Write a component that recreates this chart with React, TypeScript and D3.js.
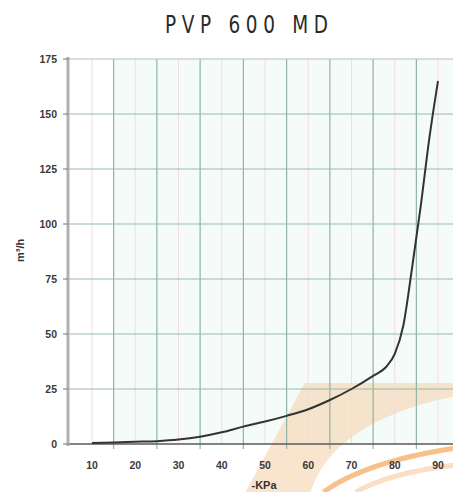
import React, { useEffect, useRef } from 'react';
import * as d3 from 'd3';

// curve: vacuum (-kPa) vs flow
const vacuum = [10, 15, 20, 25, 30, 35, 40, 45, 50, 55, 60, 65, 70, 75, 78, 80, 82, 84, 86, 88, 90];
const flow = [0.5, 0.7, 1.0, 1.3, 2.0, 3.3, 5.3, 7.9, 10.2, 12.8, 15.8, 20, 25, 31, 35, 41, 54, 80, 108, 139, 165];

const xTickLabels = [10, 20, 30, 40, 50, 60, 70, 80, 90];
const xGridValues = [15, 25, 35, 45, 55, 65, 75, 85];
const yTicks = [0, 25, 50, 75, 100, 125, 150, 175];

const W = 453;
const H = 492;
const margin = { top: 59, right: 0, bottom: 48, left: 68 };

const App: React.FC = () => {
  const svgRef = useRef<SVGSVGElement>(null);

  useEffect(() => {
    document.body.style.margin = '0';
    if (!svgRef.current) return;
    const svg = d3.select(svgRef.current);
    svg.selectAll('*').remove();

    const x = d3.scaleLinear().domain([10, 90]).range([92, 438]);
    const y = d3.scaleLinear().domain([0, 175]).range([H - margin.bottom, margin.top]);
    const x0 = margin.left;
    const x1 = W - margin.right;
    const yBase = y(0);

    svg.append('rect').attr('width', W).attr('height', H).attr('fill', '#ffffff');

    // faint mint paper tint
    svg.append('rect')
      .attr('x', x(15)).attr('y', y(175))
      .attr('width', x1 - x(15)).attr('height', yBase - y(175))
      .attr('fill', '#f4fbf8');

    // watermark (logo swoosh), given in data units
    const wm = (pts: [number, number][]) => pts.map(([a, b]) => [x(a), y(b)] as [number, number]);
    const [a1, a2, a3, a4, a5, a6] = wm([[59.2, 27.7], [97, 27.7], [97, 23], [66, 12], [60.5, -21.8], [45.5, -21.8]]);
    svg.append('path')
      .attr('d', `M${a1}L${a2}L${a3}Q${a4[0]},${a4[1]} ${a5[0]},${a5[1]}L${a6}Z`)
      .attr('fill', '#f7d8b8').attr('opacity', 0.7);
    const [b1, b2, b3] = wm([[63.5, -21.8], [74, -7], [97, -1]]);
    svg.append('path')
      .attr('d', `M${b1}Q${b2[0]},${b2[1]} ${b3[0]},${b3[1]}`)
      .attr('fill', 'none').attr('stroke', '#f6ac66').attr('stroke-width', 5).attr('opacity', 0.75);
    const [c1, c2, c3] = wm([[71, -21.8], [80, -12], [97, -9]]);
    svg.append('path')
      .attr('d', `M${c1}Q${c2[0]},${c2[1]} ${c3[0]},${c3[1]}`)
      .attr('fill', 'none').attr('stroke', '#f9d2ab').attr('stroke-width', 5).attr('opacity', 0.7);

    // pink faint verticals
    svg.append('g').selectAll('line').data(xTickLabels).join('line')
      .attr('x1', d => x(d)).attr('x2', d => x(d))
      .attr('y1', y(175)).attr('y2', yBase)
      .attr('stroke', '#f5dbe0').attr('stroke-width', 1);

    // green grid
    svg.append('g').selectAll('line').data(xGridValues).join('line')
      .attr('x1', d => x(d)).attr('x2', d => x(d))
      .attr('y1', y(175)).attr('y2', yBase + 5)
      .attr('stroke', '#8fb5a6').attr('stroke-width', 1.2);
    svg.append('g').selectAll('line').data(yTicks.filter(d => d > 0)).join('line')
      .attr('x1', x0).attr('x2', x1)
      .attr('y1', d => y(d)).attr('y2', d => y(d))
      .attr('stroke', d => (d === 175 ? '#b5bdb9' : '#98bcae')).attr('stroke-width', 1.2);

    // axes
    svg.append('line')
      .attr('x1', x0).attr('x2', x1).attr('y1', yBase).attr('y2', yBase)
      .attr('stroke', '#5a5a5a').attr('stroke-width', 1.6);
    svg.append('line')
      .attr('x1', x0).attr('x2', x0).attr('y1', y(175) - 2).attr('y2', yBase + 2)
      .attr('stroke', '#b0b0b0').attr('stroke-width', 3);
    svg.append('g').selectAll('line').data(yTicks).join('line')
      .attr('x1', x0 - 5).attr('x2', x0).attr('y1', d => y(d)).attr('y2', d => y(d))
      .attr('stroke', '#777').attr('stroke-width', 1);

    // curve
    const line = d3.line<number>()
      .x((_, i) => x(vacuum[i]))
      .y(d => y(d))
      .curve(d3.curveMonotoneX);
    svg.append('path')
      .datum(flow)
      .attr('d', line)
      .attr('fill', 'none')
      .attr('stroke', '#333')
      .attr('stroke-width', 2);

    const font = '"Liberation Sans", Arial, sans-serif';

    // tick labels
    svg.append('g').selectAll('text').data(yTicks).join('text')
      .attr('x', 57).attr('y', d => y(d) + 4)
      .attr('text-anchor', 'end')
      .attr('font-family', font).attr('font-size', 10.5).attr('font-weight', 'bold')
      .attr('fill', '#3a3a3a')
      .text(d => d);
    svg.append('g').selectAll('text').data(xTickLabels).join('text')
      .attr('x', d => x(d)).attr('y', yBase + 25)
      .attr('text-anchor', 'middle')
      .attr('font-family', font).attr('font-size', 10.5).attr('font-weight', 'bold')
      .attr('fill', '#3a3a3a')
      .text(d => d);

    // axis titles
    svg.append('text')
      .attr('transform', `translate(24,${y(88)}) rotate(-90)`)
      .attr('text-anchor', 'middle')
      .attr('font-family', font).attr('font-size', 11).attr('font-weight', 'bold')
      .attr('fill', '#333')
      .text('m³/h');
    svg.append('text')
      .attr('x', 264).attr('y', 489)
      .attr('text-anchor', 'middle')
      .attr('font-family', font).attr('font-size', 11).attr('font-weight', 'bold')
      .attr('fill', '#333')
      .text('-KPa');

    // title: condensed, letter-spaced
    const sx = 0.74;
    svg.append('text')
      .attr('transform', `translate(165,33) scale(${sx},1)`)
      .attr('x', 0).attr('y', 0)
      .attr('textLength', 163 / sx).attr('lengthAdjust', 'spacing')
      .attr('font-family', '"DejaVu Sans", sans-serif')
      .attr('font-size', 25).attr('font-weight', 'normal')
      .attr('fill', '#2a2a2a')
      .text('PVP 600 MD');
  }, []);

  return <svg ref={svgRef} width={W} height={H} style={{ display: 'block' }} />;
};

export default App;
